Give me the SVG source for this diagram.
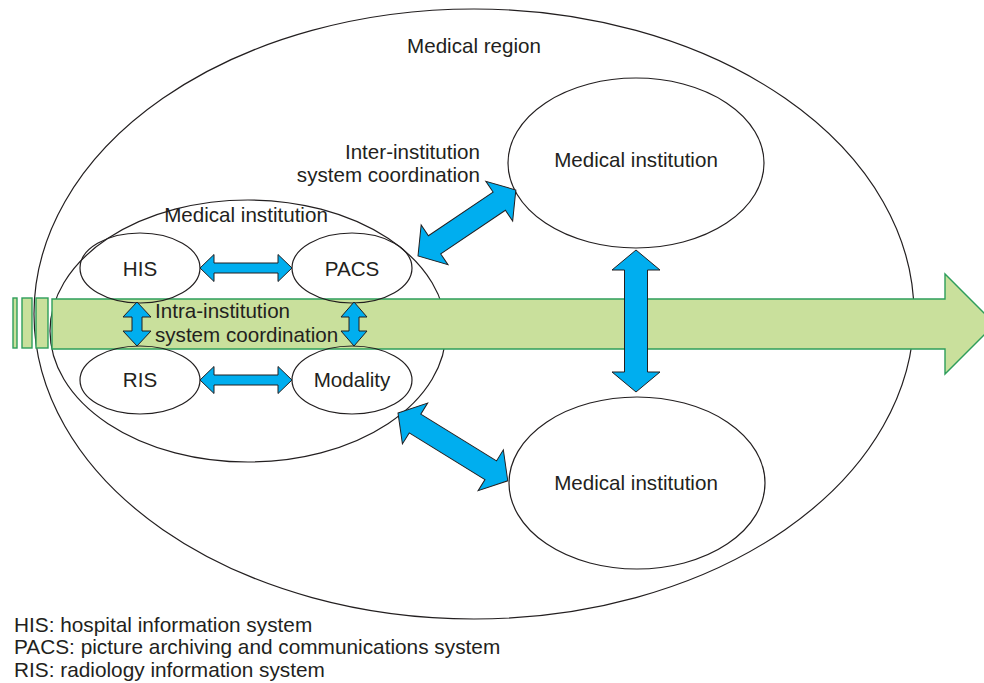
<svg xmlns="http://www.w3.org/2000/svg" width="984" height="683" viewBox="0 0 984 683">
<style>
.ell{fill:#fff;stroke:#231f20;stroke-width:1.2}
.sub{fill:none;stroke:#231f20;stroke-width:1.2}
.band{fill:#c9e09c;stroke:#2e9e5b;stroke-width:1.4}
.arr{fill:#00aeef;stroke:#231f20;stroke-width:1;stroke-linejoin:miter}
text{font-family:"Liberation Sans",Arial,sans-serif;font-size:20.6px;fill:#231f20}
.c{text-anchor:middle}
.r{text-anchor:end}
.leg{font-size:20.8px}
</style>
<rect width="984" height="683" fill="#fff"/>
<g id="region">
<ellipse class="ell" cx="474" cy="314" rx="440" ry="305"/>
<text class="c" x="474" y="53">Medical region</text>
</g>
<g id="institution-main">
<ellipse class="ell" cx="248" cy="331" rx="198" ry="131"/>
<text class="c" x="246" y="222">Medical institution</text>
</g>
<g id="institution-top">
<ellipse class="ell" cx="636" cy="163" rx="128" ry="85"/>
<text class="c" x="636" y="167">Medical institution</text>
</g>
<g id="institution-bottom">
<ellipse class="ell" cx="637" cy="483" rx="128" ry="86"/>
<text class="c" x="636" y="490">Medical institution</text>
</g>
<g id="timeline">
<rect class="band" x="13" y="298" width="4" height="50"/>
<rect class="band" x="22" y="298" width="10" height="50"/>
<rect class="band" x="36" y="298" width="12" height="50"/>
<polygon class="band" points="52,299 945,299 945,274 995,324 945,374 945,349 52,349"/>
</g>
<g id="HIS">
<ellipse class="sub" cx="140" cy="268" rx="60" ry="35"/>
<text class="c" x="140" y="276">HIS</text>
</g>
<g id="PACS">
<ellipse class="sub" cx="352" cy="268" rx="60" ry="35"/>
<text class="c" x="352" y="276">PACS</text>
</g>
<g id="RIS">
<ellipse class="sub" cx="140" cy="380" rx="60" ry="34"/>
<text class="c" x="140" y="387">RIS</text>
</g>
<g id="Modality">
<ellipse class="sub" cx="352" cy="380" rx="60" ry="34"/>
<text class="c" x="352" y="387">Modality</text>
</g>
<g id="connectors">
<polygon class="arr" transform="translate(200,268)" points="0,0 14,-13.5 14,-5 78,-5 78,-13.5 92,0 78,13.5 78,5 14,5 14,13.5"/>
<polygon class="arr" transform="translate(200,380)" points="0,0 14,-13.5 14,-5 78,-5 78,-13.5 92,0 78,13.5 78,5 14,5 14,13.5"/>
<polygon class="arr" transform="translate(137,302) rotate(90)" points="0,0 15,-14 15,-5 29,-5 29,-14 44,0 29,14 29,5 15,5 15,14"/>
<polygon class="arr" transform="translate(354,302) rotate(90)" points="0,0 15,-13 15,-5 29,-5 29,-13 44,0 29,13 29,5 15,5 15,13"/>
<polygon class="arr" transform="translate(636,250) rotate(90)" points="0,0 20,-24 20,-11.5 122,-11.5 122,-24 142,0 122,24 122,11.5 20,11.5 20,24"/>
<polygon class="arr" transform="translate(418,256) rotate(-34)" points="0,0 20,-24 20,-11 98,-11 98,-24 118,0 98,24 98,11 20,11 20,24"/>
<polygon class="arr" transform="translate(398,413) rotate(31.7)" points="0,0 20,-24 20,-11 109,-11 109,-24 129,0 109,24 109,11 20,11 20,24"/>
</g>
<g id="labels">
<text x="155" y="318">Intra-institution</text>
<text x="155" y="342">system coordination</text>
<text class="r" x="480" y="159">Inter-institution</text>
<text class="r" x="480" y="182">system coordination</text>
</g>
<g id="legend">
<text class="leg" x="14" y="632">HIS: hospital information system</text>
<text class="leg" x="14" y="654">PACS: picture archiving and communications system</text>
<text class="leg" x="14" y="677">RIS: radiology information system</text>
</g>
</svg>
